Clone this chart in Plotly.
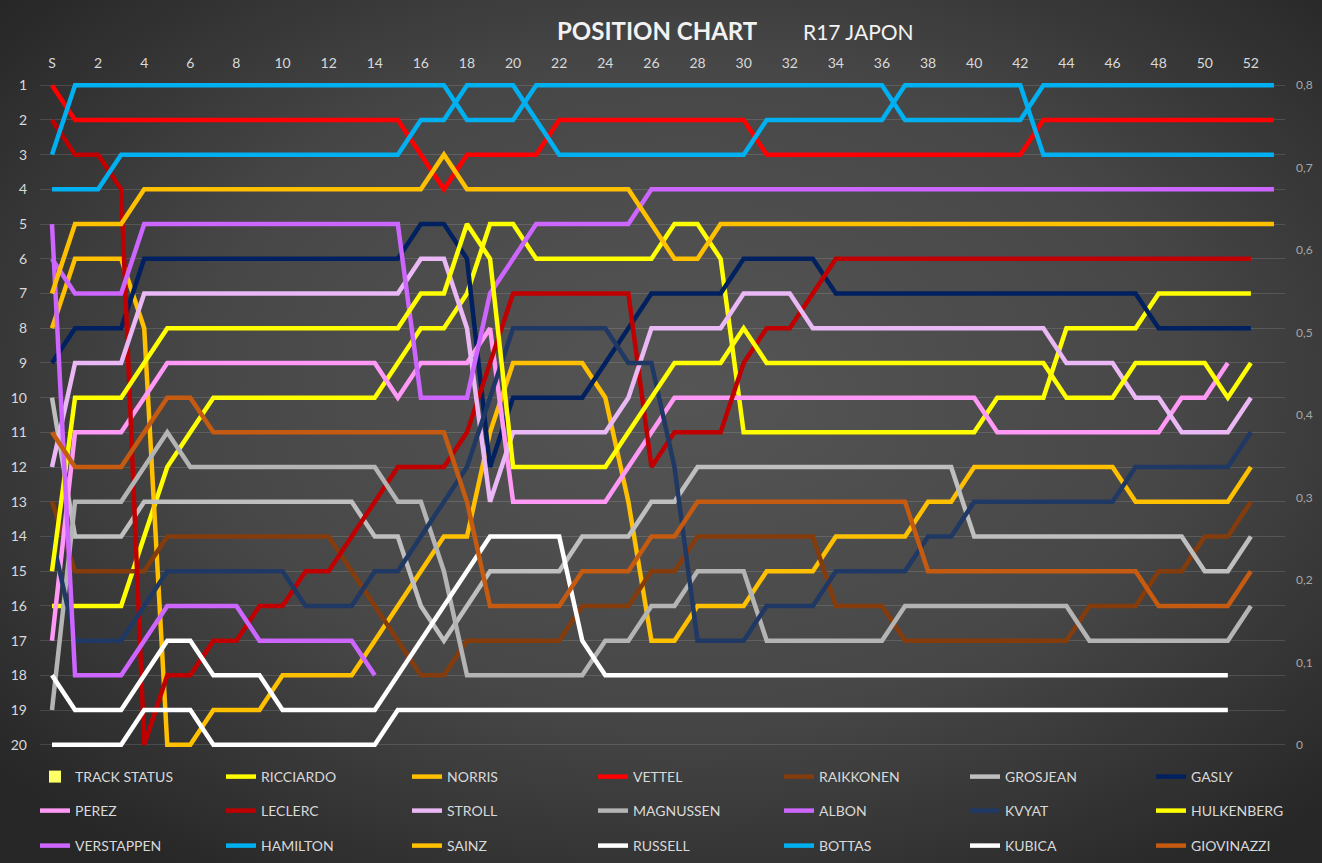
import base64
import plotly.graph_objects as go

# ---------------- data ----------------
x_tick_vals = [0, 2, 4, 6, 8, 10, 12, 14, 16, 18, 20, 22, 24, 26, 28, 30, 32, 34, 36, 38, 40, 42, 44, 46, 48, 50, 52]
x_tick_text = ["S", "2", "4", "6", "8", "10", "12", "14", "16", "18", "20", "22", "24", "26", "28", "30", "32", "34", "36", "38", "40", "42", "44", "46", "48", "50", "52"]
y_tick_vals = [1, 2, 3, 4, 5, 6, 7, 8, 9, 10, 11, 12, 13, 14, 15, 16, 17, 18, 19, 20]
y2_tick_vals = [0, 0.1, 0.2, 0.3, 0.4, 0.5, 0.6, 0.7, 0.8]
y2_tick_text = ["0", "0,1", "0,2", "0,3", "0,4", "0,5", "0,6", "0,7", "0,8"]

track_status = [0, 0, 0, 0, 0, 0, 0, 0, 0, 0, 0, 0, 0, 0, 0, 0, 0, 0, 0, 0, 0, 0, 0, 0, 0, 0, 0,
                0, 0, 0, 0, 0, 0, 0, 0, 0, 0, 0, 0, 0, 0, 0, 0, 0, 0, 0, 0, 0, 0, 0, 0, 0, 0, 0]

ricciardo = [16, 16, 16, 16, 14, 12, 11, 10, 10, 10, 10, 10, 10, 10, 10, 9, 8, 8, 7, 5, 5,
             6, 6, 6, 6, 6, 6, 5, 5, 6, 11, 11, 11, 11, 11, 11, 11, 11, 11, 11, 11,
             10, 10, 10, 8, 8, 8, 8, 7, 7, 7, 7, 7]
norris = [8, 6, 6, 6, 8, 20, 20, 19, 19, 19, 18, 18, 18, 18, 17, 16, 15, 14, 14, 11, 9,
          9, 9, 9, 10, 13, 17, 17, 16, 16, 16, 15, 15, 15, 14, 14, 14, 14, 13, 13,
          12, 12, 12, 12, 12, 12, 12, 13, 13, 13, 13, 13, 12]
vettel = [1, 2, 2, 2, 2, 2, 2, 2, 2, 2, 2, 2, 2, 2, 2, 2, 3, 4, 3, 3, 3, 3,
          2, 2, 2, 2, 2, 2, 2, 2, 2, 3, 3, 3, 3, 3, 3, 3, 3, 3, 3, 3, 3,
          2, 2, 2, 2, 2, 2, 2, 2, 2, 2, 2]
raikkonen = [13, 15, 15, 15, 15, 14, 14, 14, 14, 14, 14, 14, 14, 15, 16, 17, 18, 18,
             17, 17, 17, 17, 17, 16, 16, 16, 15, 15, 14, 14, 14, 14, 14, 14, 16, 16, 16,
             17, 17, 17, 17, 17, 17, 17, 17, 16, 16, 16, 15, 15, 14, 14, 13]
grosjean = [10, 14, 14, 14, 13, 13, 13, 13, 13, 13, 13, 13, 13, 13, 14, 14, 16, 17, 16,
            15, 15, 15, 15, 14, 14, 14, 13, 13, 12, 12, 12, 12, 12, 12, 12, 12, 12, 12,
            12, 12, 14, 14, 14, 14, 14, 14, 14, 14, 14, 14, 15, 15, 14]
gasly = [9, 8, 8, 8, 6, 6, 6, 6, 6, 6, 6, 6, 6, 6, 6, 6, 5, 5, 6, 12, 10, 10, 10, 10,
         9, 8, 7, 7, 7, 7, 6, 6, 6, 6, 7, 7, 7, 7, 7, 7, 7, 7, 7, 7, 7, 7, 7, 7,
         8, 8, 8, 8, 8]
perez = [17, 11, 11, 11, 10, 9, 9, 9, 9, 9, 9, 9, 9, 9, 9, 10, 9, 9, 9, 8, 13, 13, 13,
         13, 13, 12, 11, 10, 10, 10, 10, 10, 10, 10, 10, 10, 10, 10, 10, 10, 10,
         11, 11, 11, 11, 11, 11, 11, 11, 10, 10, 9]
leclerc = [2, 3, 3, 4, 20, 18, 18, 17, 17, 16, 16, 15, 15, 14, 13, 12, 12, 12, 11, 9,
           7, 7, 7, 7, 7, 7, 12, 11, 11, 11, 9, 8, 8, 7, 6, 6, 6, 6, 6, 6, 6, 6, 6,
           6, 6, 6, 6, 6, 6, 6, 6, 6, 6]
stroll = [12, 9, 9, 9, 7, 7, 7, 7, 7, 7, 7, 7, 7, 7, 7, 7, 6, 6, 8, 13, 11, 11, 11, 11,
          11, 10, 8, 8, 8, 8, 7, 7, 7, 8, 8, 8, 8, 8, 8, 8, 8, 8, 8, 8,
          9, 9, 9, 10, 10, 11, 11, 11, 10]
magnussen = [19, 13, 13, 13, 12, 11, 12, 12, 12, 12, 12, 12, 12, 12, 12, 13, 13, 15,
             18, 18, 18, 18, 18, 18, 17, 17, 16, 16, 15, 15, 15, 17, 17, 17, 17, 17, 17,
             16, 16, 16, 16, 16, 16, 16, 16, 17, 17, 17, 17, 17, 17, 17, 16]
albon = [6, 7, 7, 7, 5, 5, 5, 5, 5, 5, 5, 5, 5, 5, 5, 5, 10, 10, 10, 7, 6, 5, 5, 5, 5, 5,
         4, 4, 4, 4, 4, 4, 4, 4, 4, 4, 4, 4, 4, 4, 4, 4, 4, 4, 4, 4, 4, 4, 4, 4, 4, 4, 4, 4]
kvyat = [14, 17, 17, 17, 16, 15, 15, 15, 15, 15, 15, 16, 16, 16, 15, 15, 14, 13, 12, 10,
         8, 8, 8, 8, 8, 9, 9, 12, 17, 17, 17, 16, 16, 16, 15, 15, 15, 15, 14, 14,
         13, 13, 13, 13, 13, 13, 13, 12, 12, 12, 12, 12, 11]
hulkenberg = [15, 10, 10, 10, 9, 8, 8, 8, 8, 8, 8, 8, 8, 8, 8, 8, 7, 7, 5, 6,
              12, 12, 12, 12, 12, 11, 10, 9, 9, 9, 8, 9, 9, 9, 9, 9, 9, 9, 9, 9, 9, 9,
              9, 9, 10, 10, 10, 9, 9, 9, 9, 10, 9]
verstappen = [5, 18, 18, 18, 17, 16, 16, 16, 16, 17, 17, 17, 17, 17, 18]
hamilton = [4, 4, 4, 3, 3, 3, 3, 3, 3, 3, 3, 3, 3, 3, 3, 3, 2, 2, 1, 1, 1, 2,
            3, 3, 3, 3, 3, 3, 3, 3, 3, 2, 2, 2, 2, 2, 2, 1, 1, 1, 1, 1, 1,
            3, 3, 3, 3, 3, 3, 3, 3, 3, 3, 3]
sainz = [7, 5, 5, 5, 4, 4, 4, 4, 4, 4, 4, 4, 4, 4, 4, 4, 4, 3, 4, 4, 4, 4, 4, 4, 4, 4,
         5, 6, 6, 5, 5, 5, 5, 5, 5, 5, 5, 5, 5, 5, 5, 5, 5, 5, 5, 5, 5, 5, 5, 5, 5, 5, 5, 5]
russell = [18, 19, 19, 19, 18, 17, 17, 18, 18, 18, 19, 19, 19, 19, 19, 18, 17, 16, 15,
           14, 14, 14, 14, 17, 18, 18, 18, 18, 18, 18, 18, 18, 18, 18, 18, 18, 18, 18,
           18, 18, 18, 18, 18, 18, 18, 18, 18, 18, 18, 18, 18, 18]
bottas = [3, 1, 1, 1, 1, 1, 1, 1, 1, 1, 1, 1, 1, 1, 1, 1, 1, 1, 2, 2, 2,
          1, 1, 1, 1, 1, 1, 1, 1, 1, 1, 1, 1, 1, 1, 1, 1, 2, 2, 2, 2, 2, 2,
          1, 1, 1, 1, 1, 1, 1, 1, 1, 1, 1]
kubica = [20, 20, 20, 20, 19, 19, 19, 20, 20, 20, 20, 20, 20, 20, 20, 19, 19, 19, 19, 19,
          19, 19, 19, 19, 19, 19, 19, 19, 19, 19, 19, 19, 19, 19, 19, 19, 19, 19, 19, 19,
          19, 19, 19, 19, 19, 19, 19, 19, 19, 19, 19, 19]
giovinazzi = [11, 12, 12, 12, 11, 10, 10, 11, 11, 11, 11, 11, 11, 11, 11, 11, 11, 11, 13,
              16, 16, 16, 16, 15, 15, 15, 14, 14, 13, 13, 13, 13, 13, 13, 13, 13, 13, 13,
              15, 15, 15, 15, 15, 15, 15, 15, 15, 15, 16, 16, 16, 16, 15]

# series order, colours, legend block (rows of 7 split in 4 + 3)
series = [
    ("RICCIARDO", ricciardo, "#FFFF00", "legend"),
    ("NORRIS", norris, "#FFC000", "legend"),
    ("VETTEL", vettel, "#FF0000", "legend"),
    ("RAIKKONEN", raikkonen, "#843C0C", "legend2"),
    ("GROSJEAN", grosjean, "#BFBFBF", "legend2"),
    ("GASLY", gasly, "#002060", "legend2"),
    ("PEREZ", perez, "#FF99F5", "legend3"),
    ("LECLERC", leclerc, "#C00000", "legend3"),
    ("STROLL", stroll, "#E9B8F5", "legend3"),
    ("MAGNUSSEN", magnussen, "#B4B4B4", "legend3"),
    ("ALBON", albon, "#CC66FF", "legend4"),
    ("KVYAT", kvyat, "#1F3864", "legend4"),
    ("HULKENBERG", hulkenberg, "#FFFF00", "legend4"),
    ("VERSTAPPEN", verstappen, "#CC66FF", "legend5"),
    ("HAMILTON", hamilton, "#00B0F0", "legend5"),
    ("SAINZ", sainz, "#FFC000", "legend5"),
    ("RUSSELL", russell, "#FFFFFF", "legend5"),
    ("BOTTAS", bottas, "#00B0F0", "legend6"),
    ("KUBICA", kubica, "#FFFFFF", "legend6"),
    ("GIOVINAZZI", giovinazzi, "#C55A11", "legend6"),
]

# ---------------- figure ----------------
W, H = 1322, 863
ML, MR, MT, MB = 40, 37, 80, 113
PW, PH = W - ML - MR, H - MT - MB

fig = go.Figure()

fig.add_trace(go.Bar(
    x=list(range(len(track_status))), y=track_status, name="TRACK STATUS",
    marker=dict(color="#FFFF66", line=dict(width=0)), yaxis="y2",
    legend="legend", showlegend=True, hoverinfo="skip",
))

for name, vals, color, leg in series:
    fig.add_trace(go.Scatter(
        x=list(range(len(vals))), y=vals, name=name, mode="lines",
        line=dict(color=color, width=4.5),
        legend=leg, hoverinfo="name+y",
    ))

svg = (
    "<svg xmlns='http://www.w3.org/2000/svg' width='1322' height='863'>"
    "<defs><radialGradient id='g' cx='52%' cy='45%' r='68%'>"
    "<stop offset='0' stop-color='#555555'/>"
    "<stop offset='0.55' stop-color='#474747'/>"
    "<stop offset='1' stop-color='#272727'/>"
    "</radialGradient></defs>"
    "<rect width='1322' height='863' fill='url(#g)'/></svg>"
)
bg_src = "data:image/svg+xml;base64," + base64.b64encode(svg.encode()).decode()

legend_common = dict(
    orientation="h", xanchor="left", yanchor="middle",
    bgcolor="rgba(0,0,0,0)", entrywidth=141, entrywidthmode="pixels",
    font=dict(family="Lato, Calibri, sans-serif", size=14, color="#D9D9D9"),
    itemwidth=30, traceorder="normal",
)
x_left = (35 - ML) / PW
x_right = (779 - ML) / PW


def row_y(py):
    return (MT + PH - py) / PH


fig.update_layout(
    width=W, height=H,
    margin=dict(l=ML, r=MR, t=MT, b=MB, pad=0, autoexpand=False),
    paper_bgcolor="#3c3c3c", plot_bgcolor="rgba(0,0,0,0)",
    font=dict(family="Lato, Calibri, sans-serif", color="#D9D9D9"),
    showlegend=True,
    bargap=0.5,
    legend=dict(x=x_left, y=row_y(777), **legend_common),
    legend2=dict(x=x_right, y=row_y(777), **legend_common),
    legend3=dict(x=x_left, y=row_y(811), **legend_common),
    legend4=dict(x=x_right, y=row_y(811), **legend_common),
    legend5=dict(x=x_left, y=row_y(846), **legend_common),
    legend6=dict(x=x_right, y=row_y(846), **legend_common),
    xaxis=dict(
        range=[-0.52, 53.48], side="top", tickmode="array",
        tickvals=x_tick_vals, ticktext=x_tick_text, showgrid=False,
        zeroline=False, showline=False, ticks="", ticklabelstandoff=8,
        tickfont=dict(size=14, color="#D9D9D9"),
    ),
    yaxis=dict(
        range=[20.15, 0.85], tickmode="array", tickvals=y_tick_vals,
        showgrid=True, gridcolor="rgba(255,255,255,0.13)", gridwidth=1,
        zeroline=False, showline=False, ticks="", ticklabelstandoff=12,
        tickfont=dict(size=14, color="#D9D9D9"),
    ),
    yaxis2=dict(
        overlaying="y", side="right", range=[-0.00632, 0.80632],
        tickmode="array", tickvals=y2_tick_vals, ticktext=y2_tick_text,
        showgrid=False, zeroline=False, showline=False, ticks="",
        ticklabelstandoff=10, tickfont=dict(size=12, color="#A6A6A6"),
    ),
    images=[dict(
        source=bg_src, xref="paper", yref="paper",
        x=-ML / PW, y=1 + MT / PH, sizex=W / PW, sizey=H / PH,
        xanchor="left", yanchor="top", sizing="stretch", layer="below",
    )],
    annotations=[
        dict(text="<b>POSITION CHART</b>", xref="paper", yref="paper",
             x=(657 - ML) / PW, y=(MT + PH - 30) / PH, showarrow=False,
             xanchor="center", yanchor="middle",
             font=dict(family="Lato, Calibri, sans-serif", size=24, color="#F2F2F2")),
        dict(text="R17 JAPON", xref="paper", yref="paper",
             x=(858 - ML) / PW, y=(MT + PH - 31) / PH, showarrow=False,
             xanchor="center", yanchor="middle",
             font=dict(family="Lato, Calibri, sans-serif", size=21, color="#F2F2F2")),
    ],
)

fig.write_html(
    "out.html",
    config={"displayModeBar": False},
    post_script="document.body.style.margin='0';document.body.style.overflow='hidden';",
)
